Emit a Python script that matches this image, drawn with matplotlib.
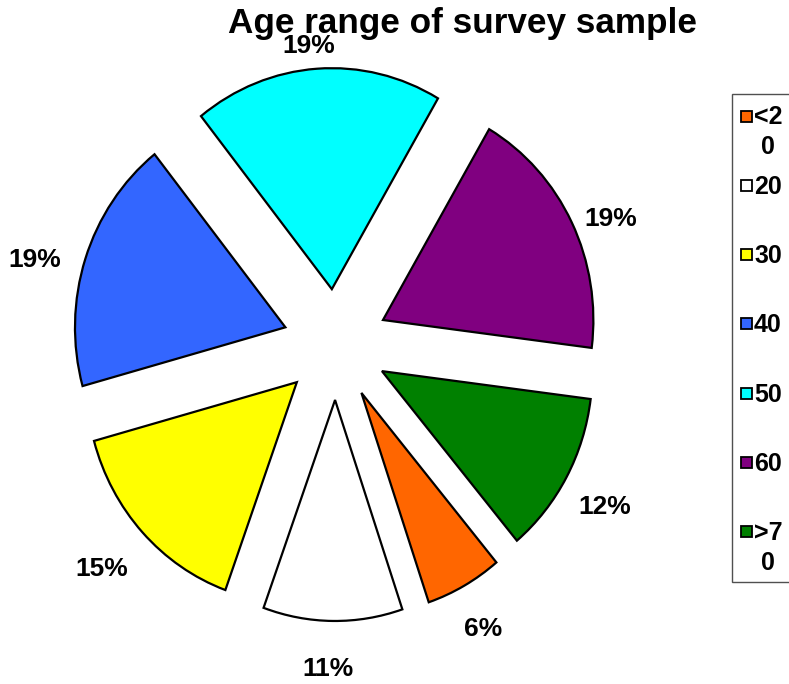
import matplotlib
matplotlib.use("Agg")
import matplotlib.pyplot as plt
import numpy as np
from matplotlib.patches import Rectangle

# Age groups of the survey sample, percent of respondents
labels = ['<2\n0', '20', '30', '40', '50', '60', '>7\n0']
percents = [5.9, 10.7, 15.2, 18.6, 19.1, 18.6, 11.9]
colors = ['#FF6600', '#FFFFFF', '#FFFF00', '#3366FF', '#00FFFF', '#800080', '#008000']

plt.rcParams['font.family'] = ['Liberation Sans', 'DejaVu Sans']
plt.rcParams['font.weight'] = 'bold'

W, H = 789, 684
fig = plt.figure(figsize=(W / 100, H / 100), dpi=100)

# pie axes, slightly squeezed horizontally (radius in pixels along x and y)
Rx, Ry = 210.4, 221.0
cx, cy = 335.6, 344.5
ax = fig.add_axes([0, 0, 1, 1])
wedges, _ = ax.pie(percents, colors=colors, startangle=-50.1, counterclock=False,
                   explode=[0.251] * len(percents),
                   wedgeprops=dict(edgecolor='black', linewidth=1.6))
ax.set_aspect('auto')
ax.set_xlim(-cx / Rx, (W - cx) / Rx)
ax.set_ylim(-(H - cy) / Ry, cy / Ry)
ax.axis('off')

# overlay axes in pixel coordinates (y down) for labels and legend
lg = fig.add_axes([0, 0, 1, 1])
lg.set_xlim(0, W)
lg.set_ylim(H, 0)
lg.axis('off')

# percent labels on a ring round the pie, along each slice's middle angle
for w, p in zip(wedges, percents):
    tm = np.deg2rad((w.theta1 + w.theta2) / 2)
    lg.text(331 + 312 * np.cos(tm), 357 - 312 * np.sin(tm), f'{p:.0f}%',
            ha='center', va='center', fontsize=19, fontweight='bold')

fig.text(462 / W, 1 - 23 / H, 'Age range of survey sample', ha='center', va='center',
         fontsize=25.3, fontweight='bold')

# legend
lg.add_patch(Rectangle((732, 94), 80, 488, facecolor='white', edgecolor='#505050',
                       linewidth=1.0, clip_on=True))
for i, (lab, col) in enumerate(zip(labels, colors)):
    y = 116 + 69.3 * i
    lg.add_patch(Rectangle((741, y - 5.5), 11, 11, facecolor=col, edgecolor='black',
                           linewidth=1.3))
    lg.text(754, y - 10.5, lab, ha='left', va='top', fontsize=18, fontweight='bold',
            linespacing=1.3, multialignment='center')

fig.savefig('out.png', dpi=100)
